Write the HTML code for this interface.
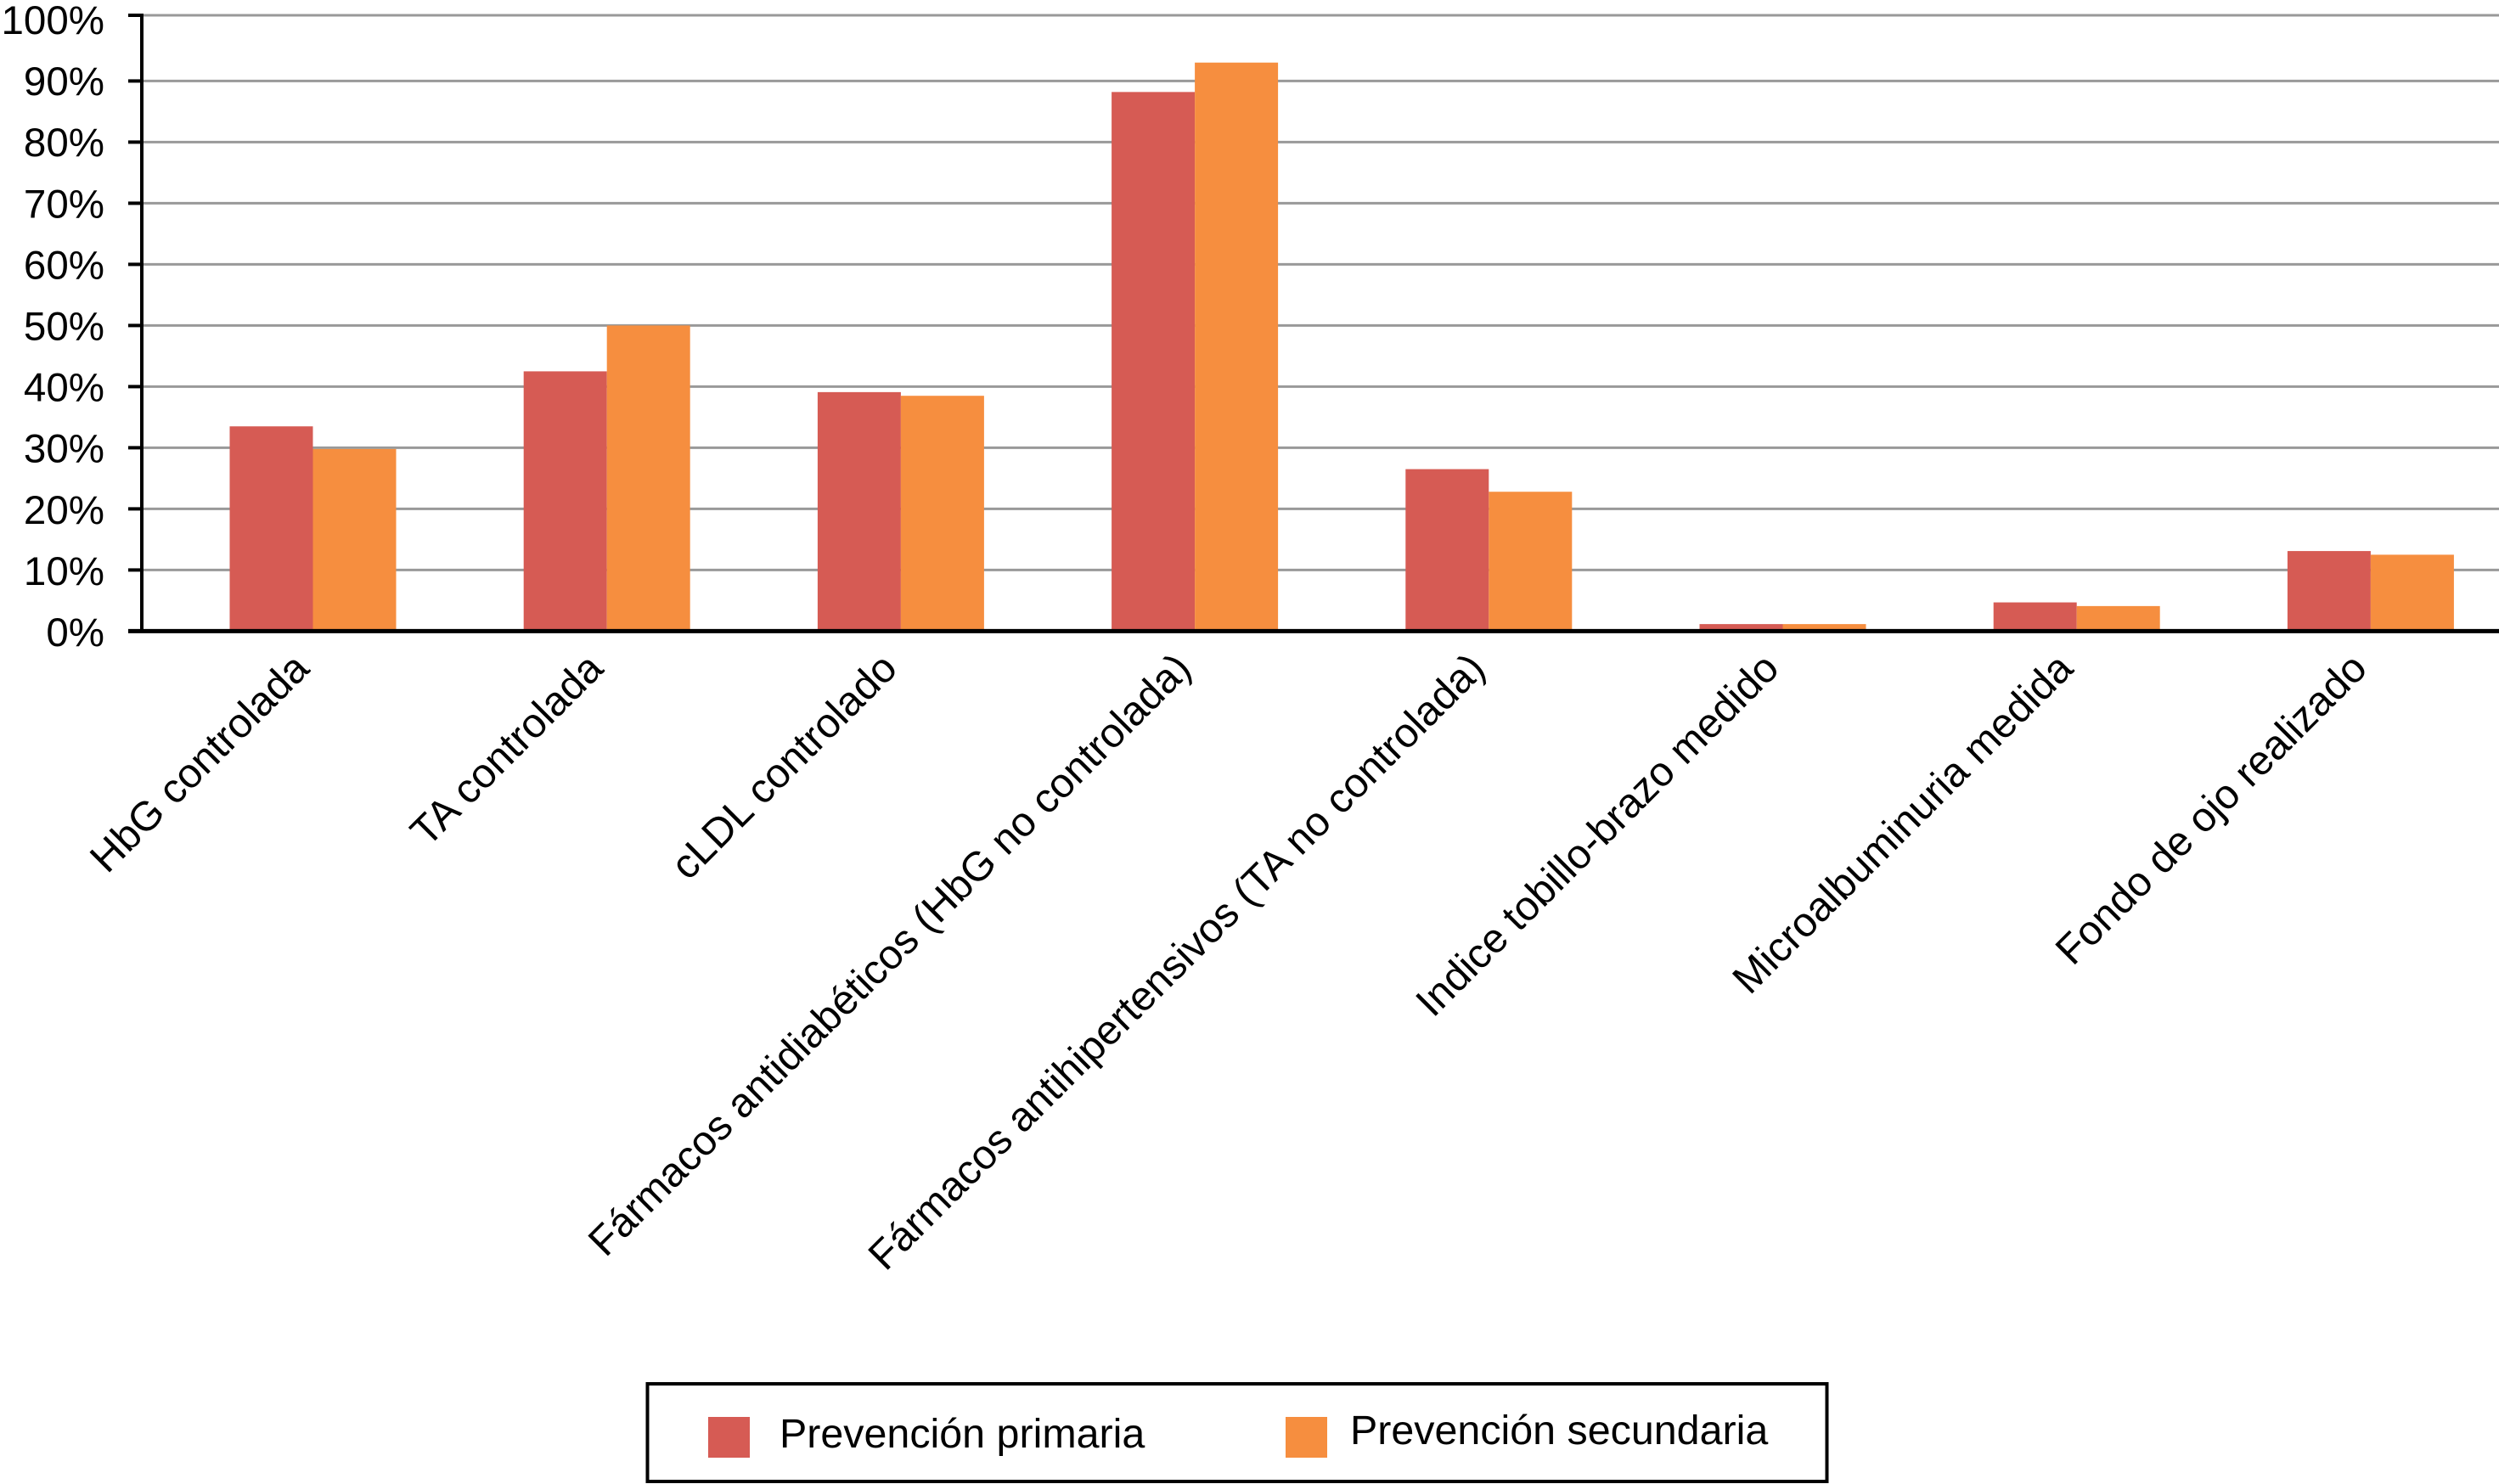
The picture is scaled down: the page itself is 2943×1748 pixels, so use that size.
<!DOCTYPE html>
<html lang="es">
<head>
<meta charset="utf-8">
<title>Prevención primaria y secundaria</title>
<style>
html,body{margin:0;padding:0;background:#fff;}
body{width:2943px;height:1748px;overflow:hidden;}
svg{display:block;}
text{font-family:"Liberation Sans",Arial,sans-serif;fill:#000;}
</style>
</head>
<body>
<svg id="chart" xmlns="http://www.w3.org/2000/svg" width="2943" height="1748" viewBox="0 0 2943 1748">
  <g id="grid"></g>
  <g id="bars"></g>
  <g id="axes"></g>
  <g id="ylabels"></g>
  <g id="xlabels"></g>
  <g>
    <rect x="762.5" y="1630" width="1389" height="115" fill="#fff" stroke="#000" stroke-width="4"/>
    <rect x="834" y="1669" width="49" height="48" fill="#D65B54"/>
    <text x="918" y="1705" font-size="48.4">Prevención primaria</text>
    <rect x="1514" y="1669" width="49" height="48" fill="#F68E3F"/>
    <text x="1590" y="1701" font-size="48.4">Prevención secundaria</text>
  </g>
</svg>
<script>
const categories = ["HbG controlada","TA controlada","cLDL controlado","Fármacos antidiabéticos (HbG no controlada)","Fármacos antihipertensivos (TA no controlada)","Indice tobillo-brazo medido","Microalbuminuria medida","Fondo de ojo realizado"];
const primaria = [33.5,42.5,39.1,88.2,26.5,1.15,4.7,13.1];
const secundaria = [29.8,50,38.5,92.8,22.8,1.15,4.1,12.5];
const ticks = [0,10,20,30,40,50,60,70,80,90,100];

const NS = "http://www.w3.org/2000/svg";
function yScale(v){
  return v <= 90 ? 743.4 - v * 7.2 : 95.4 - (v - 90) * 7.74;
}
function yLabel(v){
  return 761 - v * 7.21;
}
function xBand(i){
  return 270.5 + i * 346.2;
}
const barW = 98;
function make(tag, parent, attrs){
  const n = document.createElementNS(NS, tag);
  for (const k in attrs) n.setAttribute(k, attrs[k]);
  parent.appendChild(n);
  return n;
}
const gGrid = document.getElementById("grid");
const gBars = document.getElementById("bars");
const gAxes = document.getElementById("axes");
const gY = document.getElementById("ylabels");
const gX = document.getElementById("xlabels");

ticks.forEach(function(t){
  const y = yScale(t);
  if (t > 0) {
    const g = make("line", gGrid, {x1:167, x2:2943, y1:y, y2:y, stroke:"#999", "stroke-width":3});
    
    
  }
  const m = make("line", gAxes, {x1:151, x2:167, y1:y, y2:y, stroke:"#000", "stroke-width":4});
  
  
  const l = make("text", gY, {x:123, y:yLabel(t), "text-anchor":"end", "font-size":47.5});
  l.textContent = t + "%";
  
  
});

categories.forEach(function(c, i){
  const x = xBand(i);
  const yP = yScale(primaria[i]);
  const r1 = make("rect", gBars, {x:x, y:yP, width:barW, height:yScale(0) - yP, fill:"#D65B54"});
  
  
  const yS = yScale(secundaria[i]);
  const r2 = make("rect", gBars, {x:x + barW, y:yS, width:barW, height:yScale(0) - yS, fill:"#F68E3F"});
  
  
  const lx = x + barW - 2;
  const ly = 790;
  const t = make("text", gX, {x:lx, y:ly, "text-anchor":"end", "font-size":48.5, transform:"rotate(-45 " + lx + " " + ly + ")"});
  t.textContent = c;
  
  
});

const yAxis = make("line", gAxes, {x1:167, x2:167, y1:16, y2:745, stroke:"#000", "stroke-width":4});


const xAxis = make("line", gAxes, {x1:151, x2:2943, y1:743.4, y2:743.4, stroke:"#000", "stroke-width":5});


</script>
</body>
</html>
